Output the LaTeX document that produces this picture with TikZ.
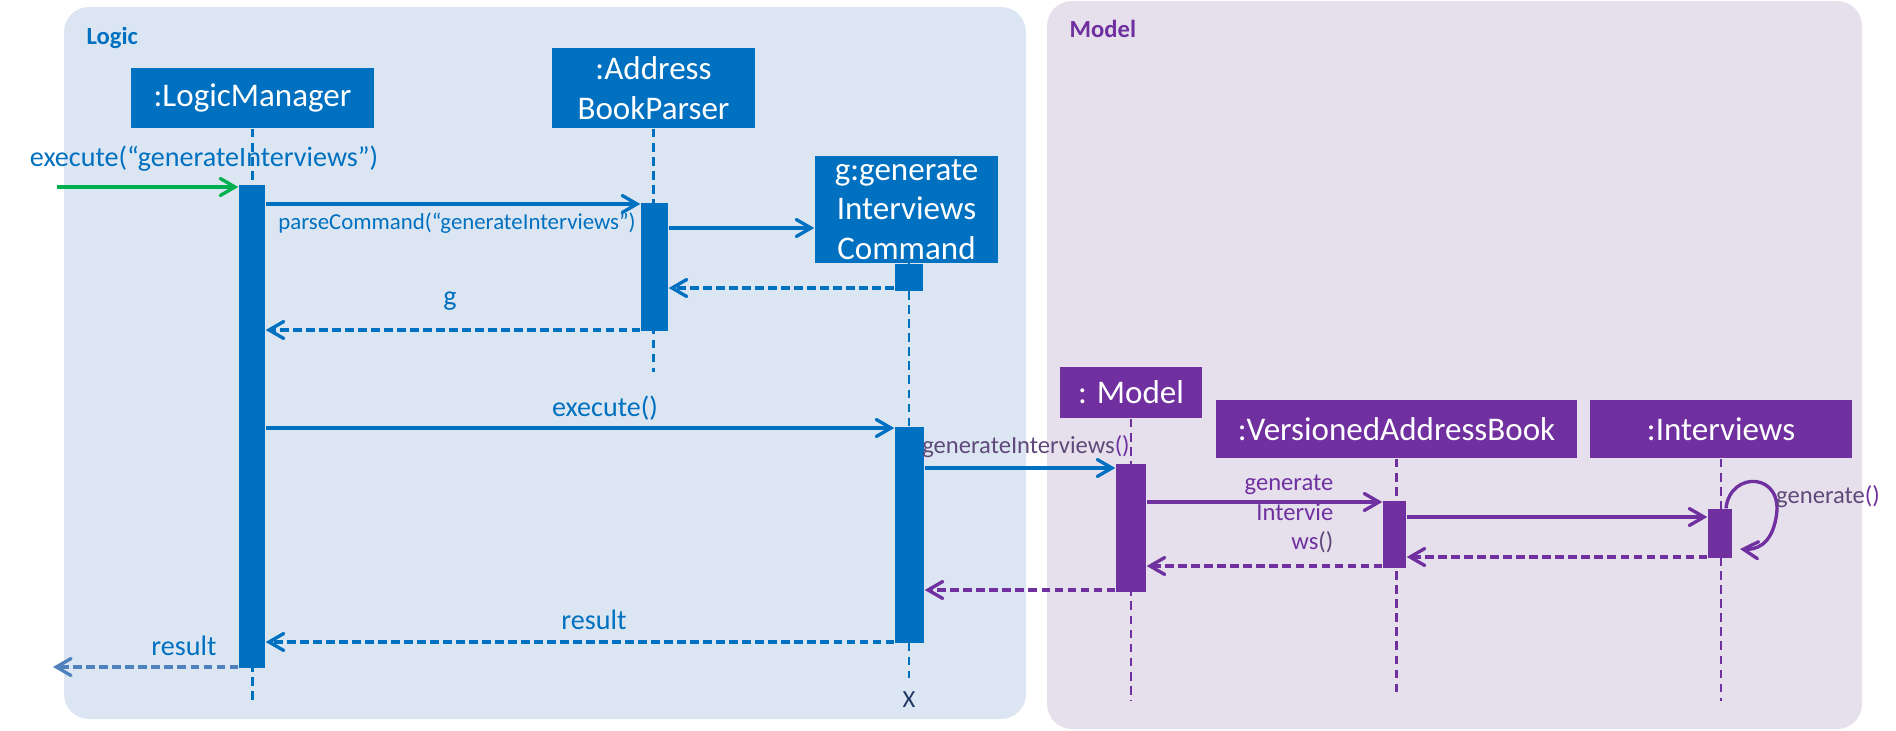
\documentclass[tikz,border=0pt]{standalone}
\usepackage{fontspec}
\setmainfont{Carlito}
\usepackage{xcolor}
\usetikzlibrary{arrows}
\usetikzlibrary{positioning, calc}

\definecolor{logicbg}{HTML}{DCE6F2}
\definecolor{modelbg}{HTML}{E5E0EC}
\definecolor{lblue}{HTML}{0070C0}
\definecolor{mpurple}{HTML}{7030A0}
\definecolor{mgrey}{HTML}{5F497A}
\definecolor{fgreen}{HTML}{00B050}
\definecolor{rblue}{HTML}{4F81BD}
\definecolor{xnavy}{HTML}{1F3864}

\begin{document}
\begin{tikzpicture}[
    lbox/.style={fill=lblue, text=white, inner sep=0pt, align=center, font=\fontsize{9.4}{11.3}\selectfont},
    mbox/.style={lbox, fill=mpurple},
    lact/.style={fill=lblue, inner sep=0pt},
    mact/.style={fill=mpurple, inner sep=0pt},
    llife/.style={lblue, line width=0.7pt, dash pattern=on 2.5pt off 1.5pt},
    mlife/.style={mpurple, line width=0.7pt, dash pattern=on 2.5pt off 1.5pt},
    lcall/.style={lblue, line width=0.95pt, -angle 60},
    mcall/.style={mpurple, line width=0.95pt, -angle 60},
    lret/.style={lcall, dash pattern=on 2.5pt off 1.2pt},
    mret/.style={mcall, dash pattern=on 2.5pt off 1.2pt},
    lbl/.style={lblue, inner sep=0pt, font=\fontsize{8}{9.6}\selectfont},
    mlbl/.style={mgrey, inner sep=0pt, font=\fontsize{7}{8.5}\selectfont}]

  \useasboundingbox (0,0) rectangle (18.96,-7.30);
  \fill[logicbg, rounded corners=0.25cm] (0.64,-0.07) rectangle (10.26,-7.19);
  \fill[modelbg, rounded corners=0.25cm] (10.47,-0.01) rectangle (18.62,-7.29);
  \node[lblue, anchor=west, inner sep=0pt, font=\fontsize{7}{8.4}\selectfont\bfseries] (logic) at (0.86,-0.38) {Logic};
  \node[mpurple, anchor=west, inner sep=0pt, font=\fontsize{7}{8.4}\selectfont\bfseries] (model) at (10.69,-0.29) {Model};

  \node[lbox, minimum width=2.43cm, minimum height=0.60cm] (lm) at (2.525,-0.98) {:LogicManager};
  \node[lbox, minimum width=2.03cm, minimum height=0.80cm] (bp) at (6.535,-0.88) {:Address\\BookParser};
  \node[lbox, minimum width=1.83cm, minimum height=1.07cm] (cmd) at (9.065,-2.095) {g:generate\\Interviews\\Command};
  \node[mbox, minimum width=1.42cm, minimum height=0.51cm] (md) at (11.31,-3.925) {: Model};
  \node[mbox, minimum width=3.61cm, minimum height=0.58cm] (vab) at (13.965,-4.29) {:VersionedAddressBook};
  \node[mbox, minimum width=2.62cm, minimum height=0.58cm] (intv) at (17.21,-4.29) {:Interviews};

  \draw[llife] (lm.south) -- (lm.south |- 0,-7.00);
  \draw[llife] (bp.south) -- (bp.south |- 0,-3.72);
  \draw[llife] (9.09,-2.63) -- (9.09,-6.78);
  \draw[mlife] (md.south) -- (md.south |- 0,-7.00);
  \draw[mlife] (vab.south) -- (vab.south |- 0,-6.92);
  \draw[mlife] (intv.south) -- (intv.south |- 0,-7.01);
  \node[xnavy, inner sep=0pt, font=\fontsize{7}{8.4}\selectfont] (kill) at (9.09,-7.00) {X};

  \node[lact, minimum width=0.26cm, minimum height=4.83cm] (lmAct) at (2.52,-4.265) {};
  \node[lact, minimum width=0.27cm, minimum height=1.28cm] (bpAct) at (6.545,-2.67) {};
  \node[lact, minimum width=0.28cm, minimum height=0.27cm, anchor=north] (cmdAct0) at (cmd.south -| 9.085,0) {};
  \node[lact, minimum width=0.29cm, minimum height=2.16cm] (cmdAct) at (9.095,-5.35) {};
  \node[mact, minimum width=0.30cm, minimum height=1.28cm] (mdAct) at (11.31,-5.28) {};
  \node[mact, minimum width=0.23cm, minimum height=0.67cm] (vabAct) at (13.945,-5.345) {};
  \node[mact, minimum width=0.24cm, minimum height=0.49cm] (intAct) at (17.20,-5.335) {};

  \coordinate (start) at (0.57,-1.87);
  \draw[fgreen, line width=0.95pt, -angle 60] (start) -- (lmAct.west |- start);
  \node[lbl] (execLbl) at (2.04,-1.59) {execute(“generateInterviews”)};

  \draw[lcall] (lmAct.east |- 0,-2.04) -- (bpAct.west |- 0,-2.04);
  \node[lbl, font=\fontsize{6.5}{7.8}\selectfont] (parseLbl) at (4.57,-2.23) {parseCommand(“generateInterviews”)};
  \draw[lcall] (bpAct.east |- 0,-2.28) -- (cmd.west |- 0,-2.28);
  \draw[lret] (cmdAct0.west |- 0,-2.88) -- (bpAct.east |- 0,-2.88);
  \draw[lret] (bpAct.west |- 0,-3.30) -- (lmAct.east |- 0,-3.30);
  \node[lbl] (gLbl) at (4.50,-3.01) {g};

  \draw[lcall] (lmAct.east |- 0,-4.28) -- (cmdAct.west |- 0,-4.28);
  \node[lbl] (execLbl2) at (6.05,-4.08) {execute()};
  \draw[lcall] (cmdAct.east |- 0,-4.68) -- (mdAct.west |- 0,-4.68);
  \node[mlbl] (genLbl) at (10.26,-4.47) {generateInterviews\textcolor{mpurple}{()}};

  \draw[mcall] (mdAct.east |- 0,-5.02) -- (vabAct.west |- 0,-5.02);
  \node[mlbl, mpurple, anchor=east, align=right] (genLbl2) at (13.34,-5.14) {generate\\Intervie\\ws\textcolor{mgrey}{()}};
  \draw[mcall] (vabAct.east |- 0,-5.17) -- (intAct.west |- 0,-5.17);
  \draw[mcall] ([xshift=0.06cm]intAct.north) .. controls (17.30,-4.70) and (17.85,-4.72) .. (17.76,-5.18)
    .. controls (17.71,-5.46) and (17.55,-5.50) .. (17.40,-5.49);
  \node[mlbl] (selfLbl) at (18.28,-4.97) {generate\textcolor{mpurple}{()}};
  \draw[mret] (intAct.west |- 0,-5.57) -- (vabAct.east |- 0,-5.57);
  \draw[mret] (vabAct.west |- 0,-5.66) -- (mdAct.east |- 0,-5.66);
  \draw[mret] (mdAct.west |- 0,-5.90) -- (cmdAct.east |- 0,-5.90);

  \draw[lret] (cmdAct.west |- 0,-6.42) -- (lmAct.east |- 0,-6.42);
  \node[lbl] (resLbl) at (5.94,-6.20) {result};
  \coordinate (exit) at (0.53,-6.67);
  \draw[lret, rblue] (lmAct.west |- exit) -- (exit);
  \node[lbl] (resLbl2) at (1.84,-6.46) {result};

\end{tikzpicture}
\end{document}
